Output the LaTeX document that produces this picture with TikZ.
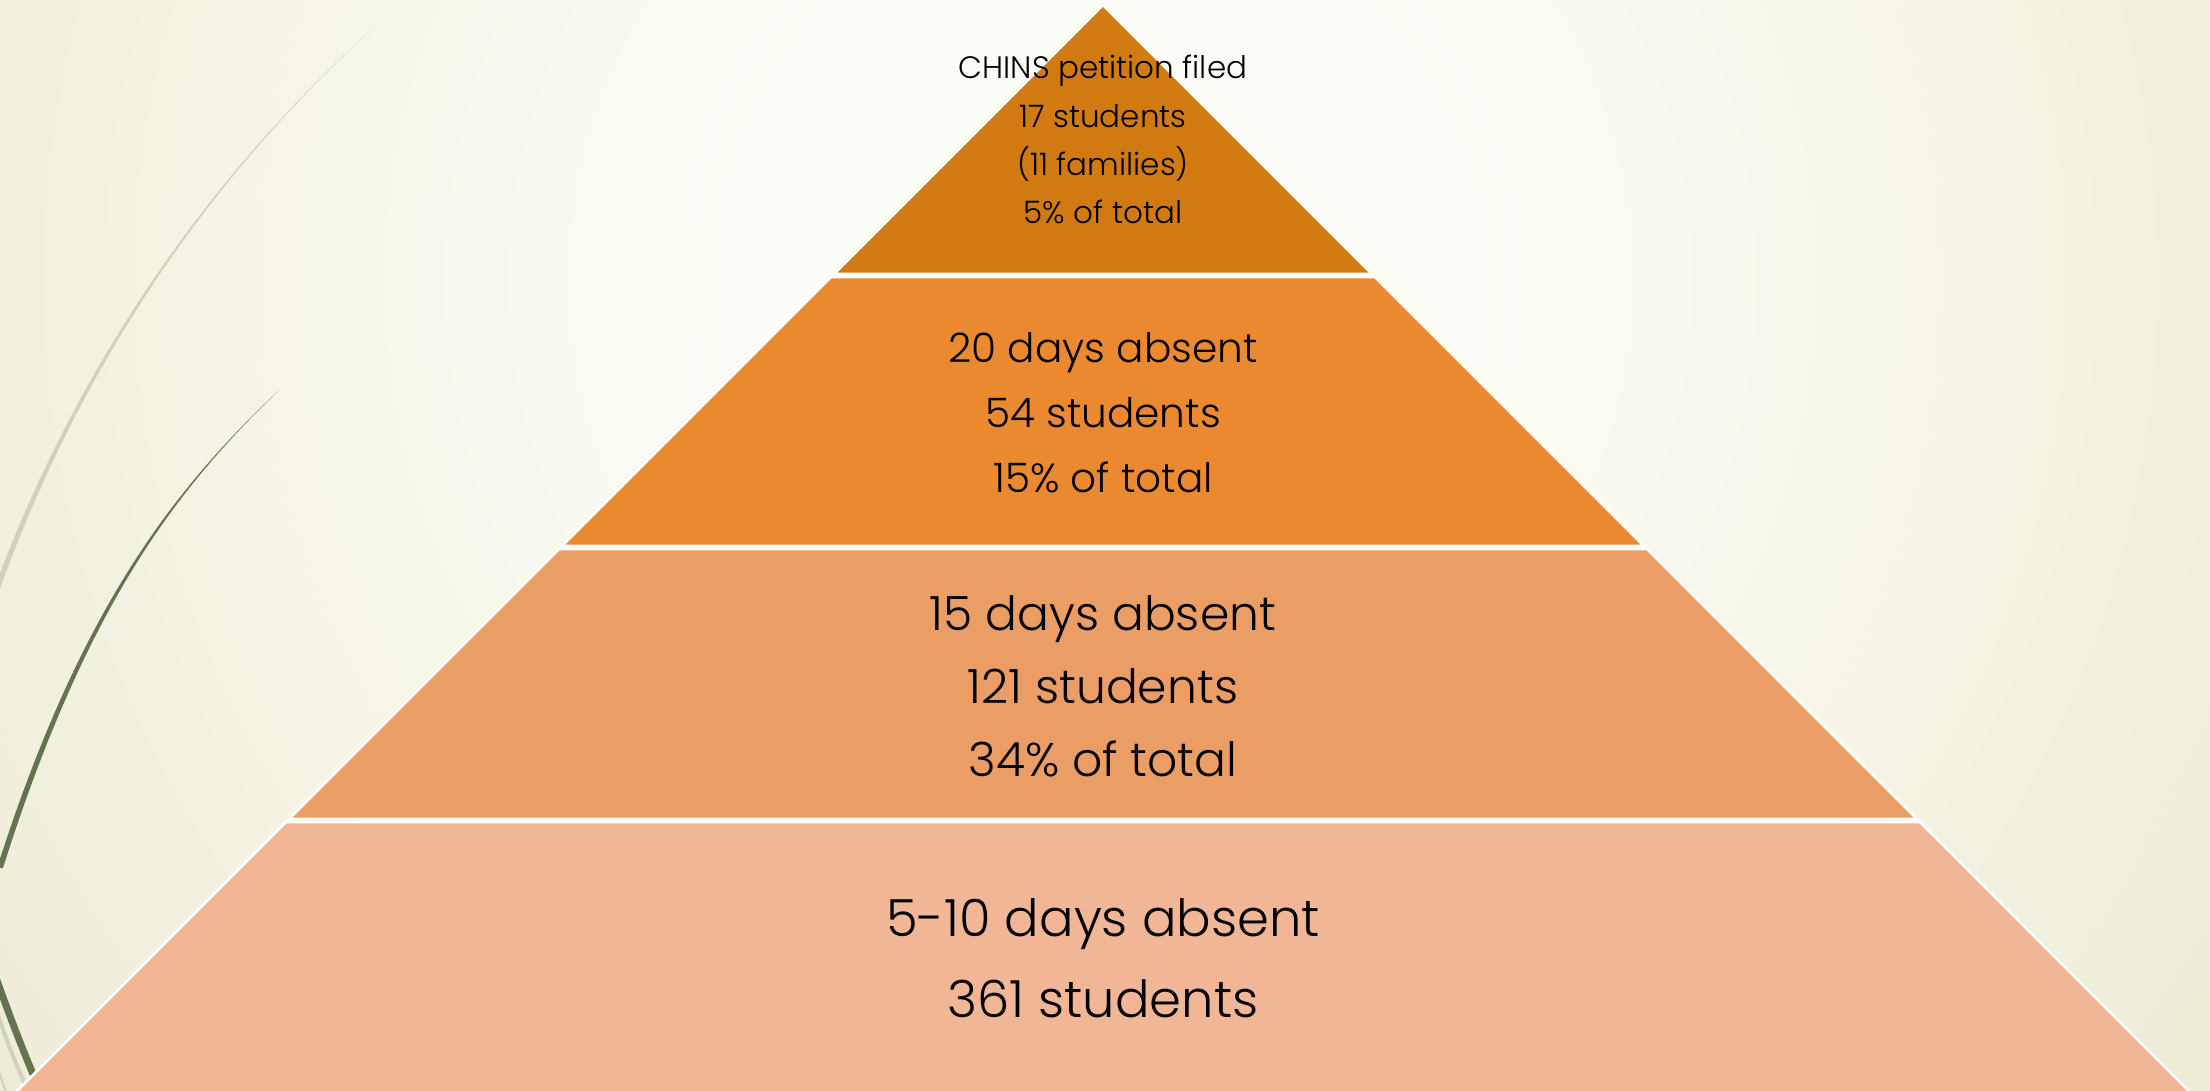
\documentclass[tikz,border=0pt]{standalone}
\usepackage{fontspec}
\setmainfont{Poppins}[UprightFont={* Light}]
\definecolor{bgin}{RGB}{253,253,248}
\definecolor{bgout}{RGB}{231,228,199}
\definecolor{darkg}{RGB}{102,115,80}
\definecolor{lightg}{RGB}{208,211,188}
\definecolor{lay1}{RGB}{208,122,17}
\definecolor{lay2}{RGB}{234,137,47}
\definecolor{lay3}{RGB}{235,157,102}
\definecolor{lay4}{RGB}{240,182,150}
\pgfdeclareradialshading{bgshade}{\pgfpoint{0bp}{0bp}}{color(0bp)=(bgin); color(6bp)=(bgin); color(36bp)=(bgout); color(50bp)=(bgout)}
\tikzset{
  layer/.style={draw=white, line width=1.3pt, line join=miter},
  lbl/.style={align=center, inner sep=0pt, text=black, anchor=base},
}
\begin{document}
\begin{tikzpicture}[x=0.5pt,y=-0.5pt]
\useasboundingbox (0,0) rectangle (2210,1091);
\begin{scope}
\clip (0,0) rectangle (2210,1091);
\shade[shading=bgshade] (-200,-1020) rectangle (2400,1580);
% decorative wisps
\fill[lightg] (377,25) .. controls (202,180) and (69,380) .. (-10,600)
  -- (-4,600) .. controls (73,380) and (204,180) .. (377,25) -- cycle;
\fill[darkg] (278,391) .. controls (177,487) and (82,602) .. (-3,868)
  -- (3,868) .. controls (87,602) and (179,487) .. (278,391) -- cycle;
\draw[lightg, line width=2pt] (-10,990) .. controls (2,1030) and (14,1060) .. (32,1100);
\draw[lightg, line width=1pt] (-3,1066) -- (7,1095);
\draw[darkg, line width=3.5pt] (-12,955) .. controls (2,995) and (18,1040) .. (44,1100);
% pyramid layers
\filldraw[layer, fill=lay1] (1103,5) -- (1372,274) -- (834,274) -- cycle;
\filldraw[layer, fill=lay2] (831,277) -- (1375,277) -- (1644,546) -- (562,546) -- cycle;
\filldraw[layer, fill=lay3] (559,549) -- (1647,549) -- (1917,819) -- (289,819) -- cycle;
\filldraw[layer, fill=lay4] (286,822) -- (1920,822) -- (2200,1102) -- (6,1102) -- cycle;
\end{scope}
% labels (anchored at the baseline of their last line)
\node[lbl, font=\fontsize{15.5}{24.2}\selectfont] (t1) at (1103,224) {CHINS petition filed\\17 students\\(11 families)\\5\% of total};
\node[lbl, font=\fontsize{20.3}{32.5}\selectfont] (t2) at (1103,492) {20 days absent\\54 students\\15\% of total};
\node[lbl, font=\fontsize{23.6}{36.5}\selectfont] (t3) at (1103,776) {15 days absent\\121 students\\34\% of total};
\node[lbl, font=\fontsize{25.6}{40.5}\selectfont] (t4) at (1103,1017) {5-10 days absent\\361 students};
\end{tikzpicture}
\end{document}
